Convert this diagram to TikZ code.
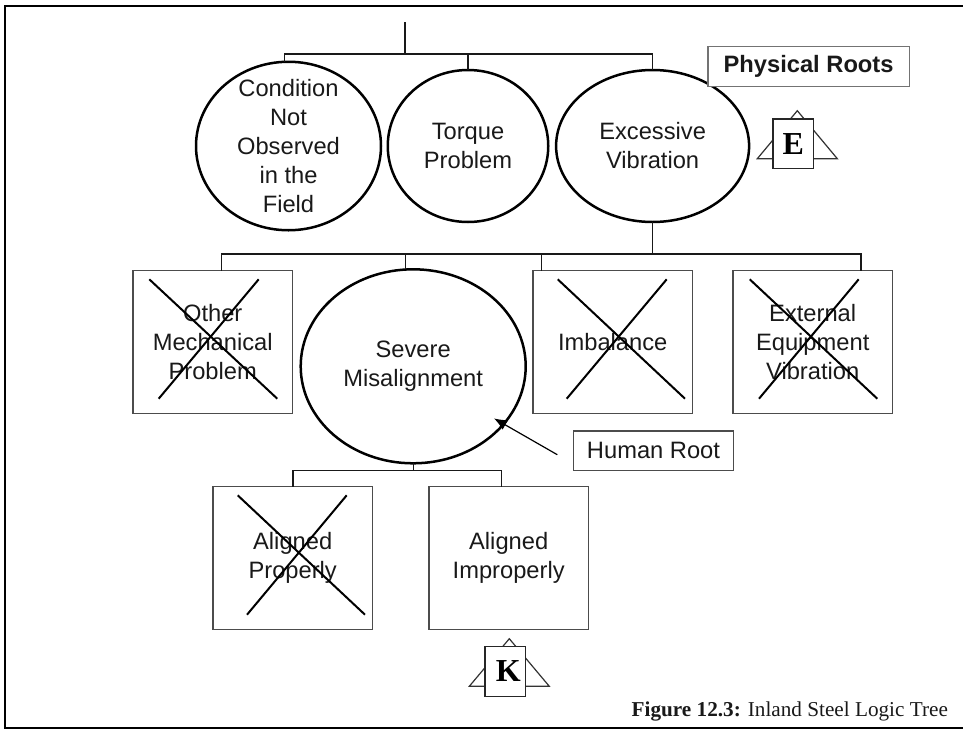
\documentclass[tikz,border=0pt]{standalone}
\usepackage{fontspec}
\setmainfont{Liberation Sans}
\newfontfamily\capfont{Liberation Serif}
\usetikzlibrary{shapes.geometric,arrows.meta}
\tikzset{
  every node/.style={inner sep=0pt,outer sep=0pt},
  lbl/.style={font=\fontsize{23.7}{29}\selectfont,align=center,text=black!90},
  oval/.style={lbl,ellipse,draw=black,line width=2.5pt},
  sqbox/.style={lbl,rectangle,draw=black!70,line width=1.5pt,minimum width=159.3pt,minimum height=143pt},
  tagbox/.style={lbl,rectangle,draw=black!55,fill=white,line width=1.3pt},
  conn/.style={draw=black!90,line width=1.3pt},
  cross/.style={draw=black,line width=2pt},
  tri/.style={draw=black!80,line width=1.2pt,line join=miter},
  marker/.style={rectangle,draw=black!85,fill=white,line width=1.2pt,minimum width=40.5pt,minimum height=49.5pt,
    font=\capfont\bfseries\fontsize{32}{32}\selectfont},
}
\begin{document}
\begin{tikzpicture}[x=1pt,y=-1pt]
\useasboundingbox (0,0) rectangle (963,734);
% frame
\draw[draw=black,line width=2pt] (963,6) -- (5,6) -- (5,727.5) -- (963,727.5);

% top row
\node[oval,inner sep=-30pt,minimum width=185pt,minimum height=168.5pt] (cond) at (288.5,146) {Condition\\Not\\Observed\\in the\\Field};
\node[oval,minimum width=160.5pt,minimum height=152pt] (torque) at (468,146) {Torque\\Problem};
\node[oval,minimum width=193pt,minimum height=152pt] (excess) at (652.6,146) {Excessive\\Vibration};

% second row
\node[sqbox] (other) at (212.7,342.2) {Other\\Mechanical\\Problem};
\node[oval,minimum width=225pt,minimum height=194pt] (severe) at (413.2,366.3) {Severe\\Misalignment};
\node[sqbox] (imb) at (612.7,342.2) {Imbalance};
\node[sqbox] (ext) at (812.7,342.2) {External\\Equipment\\Vibration};

% third row
\node[sqbox] (prop) at (292.7,558.2) {Aligned\\Properly};
\node[sqbox] (improp) at (508.7,558.2) {Aligned\\Improperly};

% tags
\node[tagbox,minimum width=201.5pt,minimum height=40pt,font=\bfseries\fontsize{23.7}{29}\selectfont] (phys) at (808.6,66.7) {Physical Roots};
\node[tagbox,draw=black!70,minimum width=160.4pt,minimum height=39.7pt] (human) at (653.5,450.8) {Human Root};

% connectors
\coordinate (topstem) at (405,22);
\coordinate (topbus) at (405,54);
\coordinate (busl) at (284.7,54);
\coordinate (busm) at (468,54);
\coordinate (busr) at (652.6,54);
\draw[conn] (topstem) -- (topbus);
\draw[conn] (busl |- cond.north) -- (busl) -- (busr) -- (excess.north);
\draw[conn] (busm) -- (torque.north);

\coordinate (bus2) at (652.6,254);
\coordinate (b2a) at (221.7,254);
\coordinate (b2b) at (405.7,254);
\coordinate (b2c) at (541.7,254);
\coordinate (b2d) at (861,254);
\draw[conn] (excess.south) -- (bus2);
\draw[conn] (b2a |- other.north) -- (b2a) -- (b2d) -- (b2d |- ext.north);
\draw[conn] (b2b) -- (b2b |- severe.north);
\draw[conn] (b2c) -- (b2c |- imb.north);

\coordinate (bus3) at (413.2,470.7);
\coordinate (b3a) at (293,470.7);
\coordinate (b3b) at (501.3,470.7);
\draw[conn] (severe.south) -- (bus3);
\draw[conn] (b3a |- prop.north) -- (b3a) -- (b3b) -- (b3b |- improp.north);

% crosses
\draw[cross] (149.3,279.3) -- (277.3,398.7);
\draw[cross] (258.7,279.3) -- (158.7,398.7);
\draw[cross] (557.7,279.3) -- (685,398.7);
\draw[cross] (666.7,279.3) -- (566.7,398.7);
\draw[cross] (749.7,279.3) -- (877.3,398.7);
\draw[cross] (858.7,279.3) -- (759,398.7);
\draw[cross] (237.7,495.3) -- (365,614.7);
\draw[cross] (346.7,495.3) -- (247,614.7);

% human-root pointer
\coordinate (ptrstart) at (557.3,454.7);
\coordinate (ptrtip) at (494,418.4);
\draw[draw=black,line width=1.2pt,-{Latex[length=13pt,width=11pt]}] (ptrstart) -- (ptrtip);

% E marker
\draw[tri] (757.3,158.7) -- (797.3,110.7) -- (837.3,158.7) -- cycle;
\node[marker] (emark) at (793.3,143.7) {E};
% K marker
\draw[tri] (469.3,686.3) -- (509.3,638.7) -- (549.3,686.3) -- cycle;
\node[marker] (kmark) at (505.3,671.5) {\hspace{6pt}K};

% caption
\node[anchor=base west,font=\capfont\fontsize{21.2}{24}\selectfont,text=black!90] (caption) at (631.7,716.7) {\textbf{Figure 12.3:} Inland Steel Logic Tree};
\end{tikzpicture}
\end{document}
